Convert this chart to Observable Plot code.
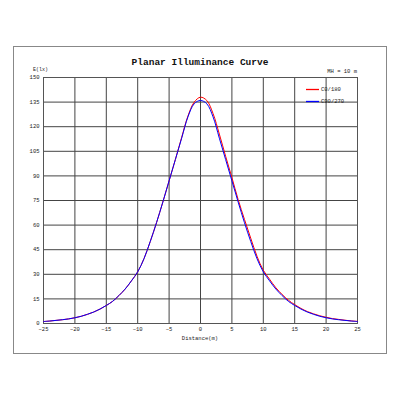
<!DOCTYPE html>
<html>
<head>
<meta charset="utf-8">
<script src="https://cdn.jsdelivr.net/npm/d3@7"></script>
<script src="https://cdn.jsdelivr.net/npm/@observablehq/plot@0.6"></script>
<style>
  html, body { margin: 0; padding: 0; background: #fff; }
  #wrap { position: relative; width: 400px; height: 400px; overflow: hidden; font-family: "Liberation Mono", "DejaVu Sans Mono", monospace; }
  #wrap > svg { position: absolute; left: 0; top: 0; }
  .ov { position: absolute; white-space: nowrap; color: #222; }
  #outer { position: absolute; left: 13px; top: 46px; width: 372px; height: 306px; border: 1.5px solid #888; }
</style>
</head>
<body>
<div id="wrap">
  <div id="outer"></div>
</div>
<script>
// Distance (m)
const distance = [-25,-24,-23,-22,-21,-20,-19,-18,-17,-16,-15,-14,-13,-12,-11,-10,-9,-8,-7,-6,-5,-4,-3,-2,-1,0,1,2,3,4,5,6,7,8,9,10,11,12,13,14,15,16,17,18,19,20,21,22,23,24,25];
// C0/180 illuminance (lx)
const c0_180 = [1.2,1.5,1.9,2.3,2.8,3.5,4.4,5.6,7,8.8,11,13.5,17,21,26,31.5,39.5,50,61.5,74,87,100,113.5,126.5,135,138,136,128,115.5,102,89,75.5,63.5,52,41,32.5,27,21.8,17.7,14.2,11.5,9.2,7.3,5.9,4.7,3.8,3.0,2.5,2.0,1.6,1.3];
// C90/270 illuminance (lx)
const c90_270 = [1.2,1.5,1.9,2.3,2.8,3.5,4.4,5.6,7,8.8,11,13.5,17,21,26,31.5,39.5,50,61.5,74,87,100,113,126,134,136,134,126,113,100,87,74,61.5,50,39.5,31.5,26,21,17,13.5,11,8.8,7,5.6,4.4,3.5,2.8,2.3,1.9,1.5,1.2];
const xTicks = [-25,-20,-15,-10,-5,0,5,10,15,20,25];
const yTicks = [0,15,30,45,60,75,90,105,120,135,150];
const seriesNames = ["C0/180", "C90/270"];
const seriesColors = ["#ff0000", "#0000ff"];

const rows0 = distance.map((d, i) => ({x: d, y: c0_180[i]}));
const rows1 = distance.map((d, i) => ({x: d, y: c90_270[i]}));

const chart = Plot.plot({
  width: 400, height: 400,
  marginLeft: 43, marginRight: 43, marginTop: 77, marginBottom: 77,
  style: {fontFamily: "Liberation Mono, monospace", fontSize: "5.5px", background: "transparent", color: "#222"},
  x: {domain: [-25, 25]},
  y: {domain: [0, 150]},
  marks: [
    Plot.gridX(xTicks, {stroke: "#444", strokeOpacity: 1, strokeWidth: 1}),
    Plot.gridY(yTicks, {stroke: "#444", strokeOpacity: 1, strokeWidth: 1}),
    Plot.frame({stroke: "#555"}),
    Plot.axisX(xTicks, {tickSize: 0, tickPadding: 4, label: null, fontSize: 5.5}),
    Plot.axisY(yTicks, {tickSize: 0, tickPadding: 4, label: null, fontSize: 5.5}),
    Plot.line(rows0, {x: "x", y: "y", stroke: seriesColors[0], strokeWidth: 1, curve: "catmull-rom"}),
    Plot.line(rows1, {x: "x", y: "y", stroke: seriesColors[1], strokeWidth: 1, curve: "catmull-rom"})
  ]
});
const wrap = document.getElementById("wrap");
wrap.insertBefore(chart, wrap.firstChild);

function addText(txt, css) {
  const d = document.createElement("div");
  d.className = "ov";
  d.textContent = txt;
  Object.assign(d.style, css);
  wrap.appendChild(d);
  return d;
}
addText("Planar Illuminance Curve", {left: "0px", width: "400px", textAlign: "center", top: "57px", fontSize: "9.5px", fontWeight: "bold", lineHeight: "12px", color: "#111"});
addText("E(lx)", {left: "33px", top: "67px", fontSize: "5px", lineHeight: "7px"});
addText("MH = 10 m", {right: "43px", top: "68px", fontSize: "5.5px", lineHeight: "7px"});
addText("Distance(m)", {left: "0px", width: "400px", textAlign: "center", top: "335px", fontSize: "5.5px", lineHeight: "7px"});

// Legend (inside the plot, top-right), drawn into the SVG
const lg = d3.select(chart).append("g").attr("class", "legend-key").attr("text-anchor", "start");
seriesNames.forEach((name, i) => {
  const yy = 89.5 + i * 12;
  lg.append("line")
    .attr("x1", 306).attr("x2", 319)
    .attr("y1", yy).attr("y2", yy)
    .style("stroke", seriesColors[i])
    .style("stroke-width", "1.3px");
  lg.append("text")
    .attr("x", 321).attr("y", yy)
    .attr("dy", "0.35em")
    .attr("fill", "#222")
    .style("font-size", "5.5px")
    .text(name);
});
</script>
</body>
</html>
